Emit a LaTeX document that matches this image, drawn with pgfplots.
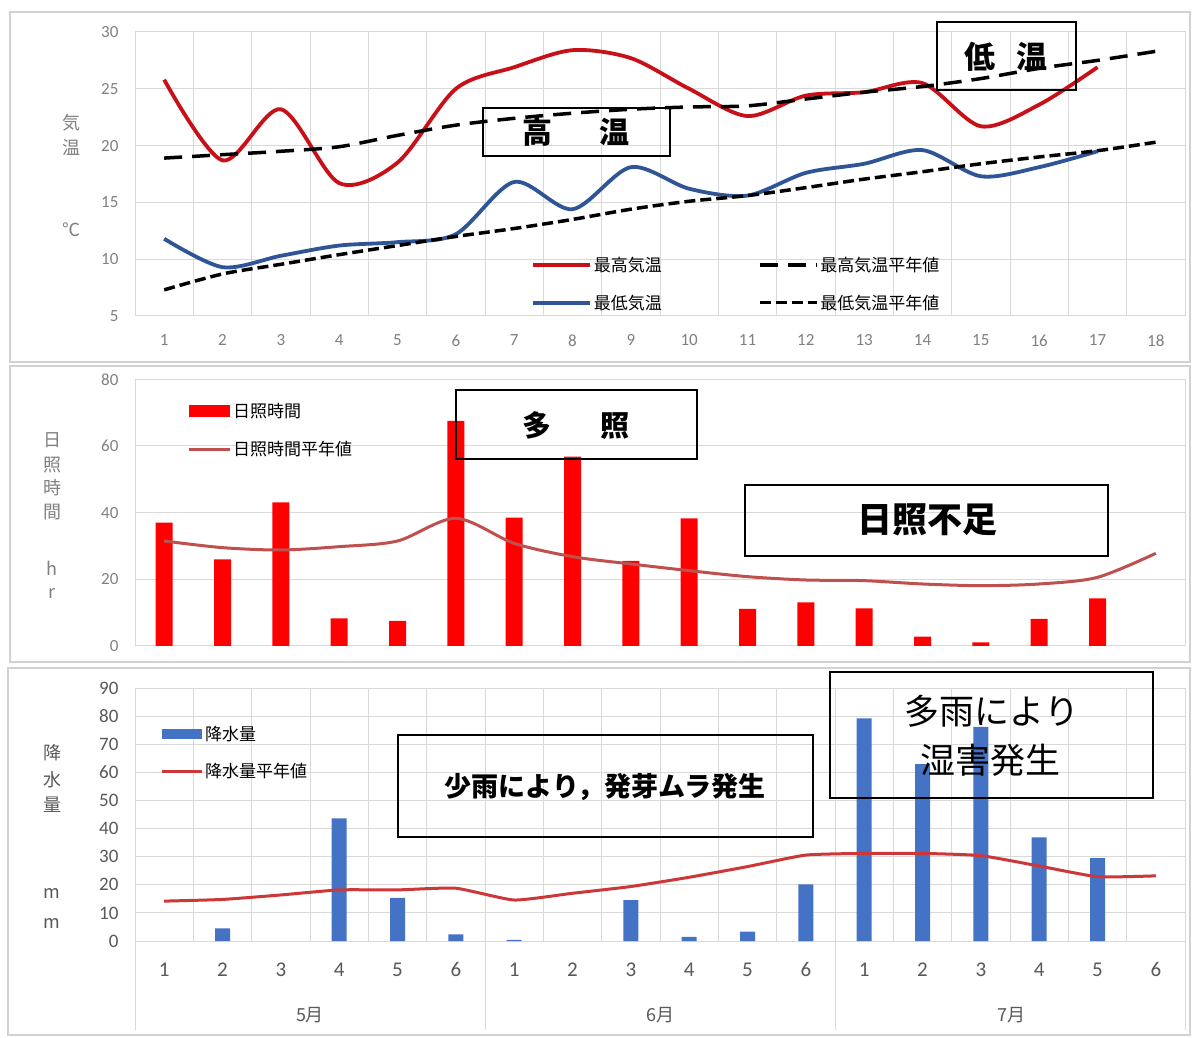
\documentclass[border=0pt]{standalone}
\usepackage{fontspec}
\setmainfont{Carlito}
\newfontfamily\jp{Noto Sans CJK JP}
\usepackage{pgfplots}
\pgfplotsset{compat=1.18}
\definecolor{gridc}{RGB}{217,217,217}
\definecolor{panelc}{RGB}{210,210,210}
\definecolor{tickc}{RGB}{128,128,128}
\definecolor{tickd}{RGB}{89,89,89}
\definecolor{maxred}{RGB}{200,16,24}
\definecolor{minblue}{RGB}{47,85,151}
\definecolor{sunred}{RGB}{255,0,0}
\definecolor{sunnorm}{RGB}{192,80,77}
\definecolor{rainblue}{RGB}{68,114,196}
\definecolor{rainnorm}{RGB}{205,55,55}
\pgfplotsset{
  common/.style={
    scale only axis, anchor=south west, width=1050pt,
    xmin=0.5, xmax=18.5,
    axis line style={draw=gridc, line width=1pt},
    major tick length=0pt, minor tick length=0pt,
    minor xtick={1.5,2.5,...,17.5},
    xminorgrids=true, ymajorgrids=true,
    minor grid style={gridc, line width=1pt},
    major grid style={gridc, line width=1pt},
    /pgf/number format/assume math mode=true,
    yticklabel shift=13pt,
    legend cell align=left,
  }
}
\begin{document}
\begin{tikzpicture}[x=1pt,y=1pt]
\useasboundingbox (0,0) rectangle (1200,1037);
\fill[white] (0,0) rectangle (1200,1037);
% panel frames
\draw[panelc, line width=1.5pt] (10,1025) rectangle (1190,675);
\draw[panelc, line width=1.5pt] (10,671) rectangle (1190,375);
\draw[panelc, line width=1.5pt] (8,369) rectangle (1190,2);

% ---------------- Temperature ----------------
\begin{axis}[common, at={(135pt,721pt)}, height=284pt,
  ymin=5, ymax=30, ytick={5,10,...,30}, xtick={1,...,18},
  xticklabel shift=15pt,
  tick label style={font=\fontsize{17}{20}\selectfont, text=tickc},
  legend columns=2,
  legend style={at={(0.377,0.216)}, anchor=north west, draw=none, fill=none,
    inner sep=0pt, row sep=18pt, font=\jp\fontsize{17}{20}\selectfont,
    /tikz/every even column/.append style={column sep=94pt}},
  legend image code/.code={\draw[#1] (0pt,0pt) -- (57pt,0pt);},
]
\addplot[maxred, line width=3.8pt, smooth, tension=0.5] coordinates {
(1,25.8)(2,18.7)(3,23.2)(4,16.7)(5,18.5)(6,25.0)(7,26.9)(8,28.4)(9,27.7)(10,25.0)(11,22.6)(12,24.4)(13,24.7)(14,25.5)(15,21.7)(16,23.6)(17,26.9)};
\addlegendentry{最高気温}
\addplot[black, line width=3.5pt, dash pattern=on 18pt off 10pt, smooth, tension=0.5] coordinates {
(1,18.9)(2,19.2)(3,19.5)(4,19.9)(5,20.9)(6,21.8)(7,22.4)(8,22.85)(9,23.2)(10,23.4)(11,23.5)(12,24.1)(13,24.7)(14,25.2)(15,25.9)(16,26.8)(17,27.5)(18,28.3)};
\addlegendentry{最高気温平年値}
\addplot[minblue, line width=3.8pt, smooth, tension=0.5] coordinates {
(1,11.8)(2,9.3)(3,10.3)(4,11.2)(5,11.5)(6,12.2)(7,16.8)(8,14.4)(9,18.1)(10,16.2)(11,15.6)(12,17.6)(13,18.4)(14,19.6)(15,17.3)(16,18.1)(17,19.5)};
\addlegendentry{最低気温}
\addplot[black, line width=3.5pt, dash pattern=on 11pt off 5pt, smooth, tension=0.5] coordinates {
(1,7.3)(2,8.7)(3,9.55)(4,10.4)(5,11.2)(6,12.0)(7,12.7)(8,13.5)(9,14.4)(10,15.1)(11,15.6)(12,16.3)(13,17.05)(14,17.7)(15,18.4)(16,19.0)(17,19.55)(18,20.3)};
\addlegendentry{最低気温平年値}
\end{axis}

% ---------------- Sunshine ----------------
\begin{axis}[common, at={(135pt,391pt)}, height=266.7pt,
  ymin=0, ymax=80, ytick={0,20,...,80}, xtick=\empty,
  tick label style={font=\fontsize{17}{20}\selectfont, text=tickc},
  legend style={at={(0.0495,0.918)}, anchor=north west, draw=none, fill=none,
    inner sep=0pt, row sep=18pt, font=\jp\fontsize{17}{20}\selectfont},
]
\addplot[ybar, bar width=17pt, fill=sunred, draw=none,
  legend image code/.code={\fill[sunred] (0pt,-6pt) rectangle (41pt,6pt);}] coordinates {
(1,37.0)(2,26.0)(3,43.1)(4,8.3)(5,7.5)(6,67.5)(7,38.5)(8,56.8)(9,25.5)(10,38.3)(11,11.1)(12,13.1)(13,11.3)(14,2.8)(15,1.1)(16,8.1)(17,14.3)};
\addlegendentry{日照時間}
\addplot[sunnorm, line width=3pt, smooth, tension=0.5,
  legend image code/.code={\draw[sunnorm, line width=3pt] (0pt,0pt) -- (41pt,0pt);}] coordinates {
(1,31.5)(2,29.5)(3,28.8)(4,29.8)(5,31.5)(6,38.3)(7,30.8)(8,26.8)(9,24.6)(10,22.6)(11,20.8)(12,19.8)(13,19.6)(14,18.6)(15,18.1)(16,18.6)(17,20.6)(18,27.8)};
\addlegendentry{日照時間平年値}
\end{axis}

% ---------------- Precipitation ----------------
\begin{axis}[common, at={(135pt,96pt)}, height=252.7pt,
  ymin=0, ymax=90, ytick={0,10,...,90}, xtick={1,...,18},
  xticklabels={1,2,3,4,5,6,1,2,3,4,5,6,1,2,3,4,5,6},
  xticklabel shift=18pt,
  yticklabel style={font=\fontsize{19}{22}\selectfont, text=tickd},
  xticklabel style={font=\fontsize{21}{24}\selectfont, text=tickd},
  legend style={at={(0.0238,0.858)}, anchor=north west, draw=none, fill=none,
    inner sep=0pt, row sep=17pt, font=\jp\fontsize{17}{20}\selectfont},
]
\addplot[ybar, bar width=15pt, fill=rainblue, draw=none,
  legend image code/.code={\fill[rainblue] (0pt,-5pt) rectangle (40pt,5pt);}] coordinates {
(2,4.5)(4,43.7)(5,15.4)(6,2.4)(7,0.4)(9,14.6)(10,1.5)(11,3.3)(12,20.2)(13,79.3)(14,63)(15,76.3)(16,36.9)(17,29.5)};
\addlegendentry{降水量}
\addplot[rainnorm, line width=3pt, smooth, tension=0.3,
  legend image code/.code={\draw[rainnorm, line width=3pt] (0pt,0pt) -- (40pt,0pt);}] coordinates {
(1,14.2)(2,14.8)(3,16.4)(4,18.2)(5,18.2)(6,18.8)(7,14.6)(8,17.0)(9,19.4)(10,22.7)(11,26.5)(12,30.6)(13,31.2)(14,31.2)(15,30.4)(16,26.7)(17,22.9)(18,23.2)};
\addlegendentry{降水量平年値}
\end{axis}

% month separators and labels
\foreach \xx in {135,485,835,1185} \draw[gridc, line width=1pt] (\xx,96) -- (\xx,7);
\node[font=\jp\fontsize{18}{20}\selectfont, text=tickd] at (310,22) {5月};
\node[font=\jp\fontsize{18}{20}\selectfont, text=tickd] at (660,22) {6月};
\node[font=\jp\fontsize{18}{20}\selectfont, text=tickd] at (1011,22) {7月};

% axis titles
\begin{scope}[every node/.style={font=\jp\fontsize{18}{20}\selectfont, text=tickc}]
\node at (71,914) {気};
\node at (71,889) {温};
\node at (71,807) {℃};
\node at (52,597) {日};
\node at (52,572) {照};
\node at (52,549) {時};
\node at (52,525) {間};
\node at (52,469) {h};
\node at (52,444) {r};
\node[text=tickd] at (52,284) {降};
\node[text=tickd] at (52,257) {水};
\node[text=tickd] at (52,232) {量};
\node[text=tickd] at (52,144) {m};
\node[text=tickd] at (52,114) {m};
\end{scope}

% annotation boxes
\begin{scope}[line width=2.5pt]
\draw (483,929) rectangle (670,881);
\node[font=\jp\bfseries\fontsize{30}{34}\selectfont] at (576,905) {高\hspace{47pt}温};
\draw (937,1015) rectangle (1076,947);
\node[font=\jp\bfseries\fontsize{31}{34}\selectfont] at (1006,980) {低\hspace{22pt}温};
\draw (456,647) rectangle (697,578);
\node[font=\jp\bfseries\fontsize{29}{34}\selectfont] at (576,612) {多\hspace{49pt}照};
\draw (745,552) rectangle (1108,481);
\node[font=\jp\bfseries\fontsize{35}{40}\selectfont] at (927,517) {日照不足};
\draw (398,302) rectangle (813,200);
\node[font=\jp\bfseries\fontsize{27}{32}\selectfont] at (605,250) {少雨により，発芽ムラ発生};
\draw (830,365) rectangle (1153,239);
\node[font=\jp\fontsize{35}{40}\selectfont] at (992,326) {多雨により};
\node[font=\jp\fontsize{35}{40}\selectfont] at (990,277) {湿害発生};
\end{scope}
\end{tikzpicture}
\end{document}
